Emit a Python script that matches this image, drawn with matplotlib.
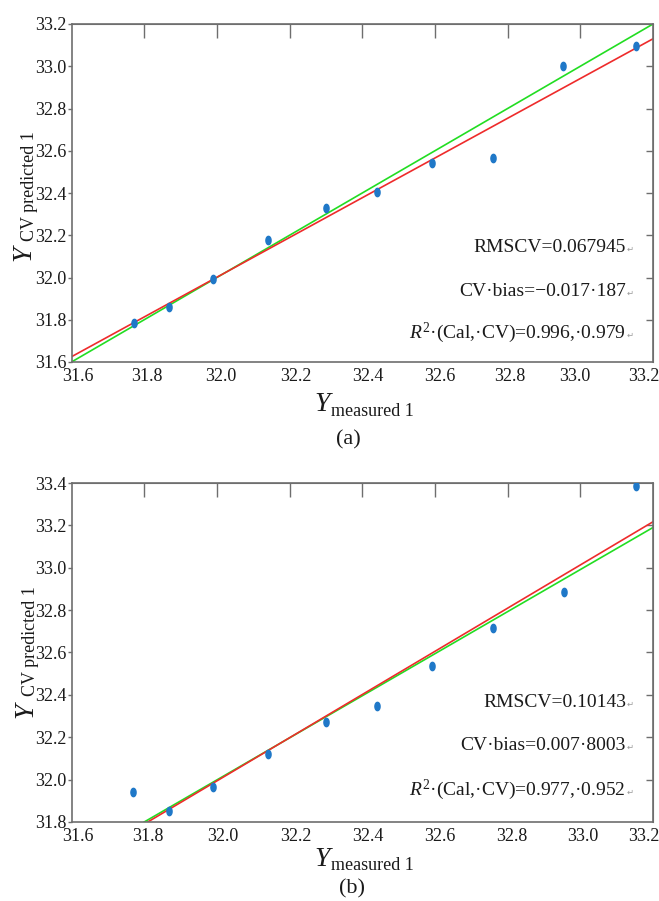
import matplotlib

matplotlib.use("Agg")
import matplotlib.pyplot as plt
import matplotlib.transforms as mtrans
import numpy as np
from matplotlib.path import Path

# ---- data ------------------------------------------------------------------
meas_a = [31.772, 31.869, 31.990, 32.142, 32.300, 32.440, 32.592, 32.760, 32.953, 33.152]
pred_a = [31.783, 31.858, 31.995, 32.176, 32.330, 32.404, 32.544, 32.568, 33.000, 33.095]
ideal_a_x = [31.6, 33.2]
ideal_a_y = [31.6, 33.2]
fit_a_x = [31.6, 33.2]
fit_a_y = [31.625, 33.13]

meas_b = [31.770, 31.867, 31.988, 32.140, 32.300, 32.440, 32.592, 32.761, 32.954, 33.152]
pred_b = [31.943, 31.854, 31.967, 32.121, 32.271, 32.346, 32.538, 32.714, 32.884, 33.386]
ideal_b_x = [31.8, 33.2]
ideal_b_y = [31.8, 33.19]
fit_b_x = [31.8, 33.2]
fit_b_y = [31.79, 33.217]

xticks = [31.6, 31.8, 32.0, 32.2, 32.4, 32.6, 32.8, 33.0, 33.2]
yticks_a = [31.6, 31.8, 32.0, 32.2, 32.4, 32.6, 32.8, 33.0, 33.2]
yticks_b = [31.8, 32.0, 32.2, 32.4, 32.6, 32.8, 33.0, 33.2, 33.4]

stats_a = ["RMSCV=0.067945", "CV·bias=−0.017·187", "$R^2$·(Cal,·CV)=0.996,·0.979"]
stats_b = ["RMSCV=0.10143", "CV·bias=0.007·8003", "$R^2$·(Cal,·CV)=0.977,·0.952"]

# the source figure's x tick labels sit a little off their ticks (pixels)
xlabel_shift_a = [6, 3, 4, 6, 6, 5, 2, -6, -9]
xlabel_shift_b = [6, 4, 6, 6, 6, 5, 4, 2, -9]

# ---- style -----------------------------------------------------------------
W, H = 659, 901
SERIF = "Liberation Serif"
SPINE = "#6e6e6e"
INK = "#1a1a1a"
GREEN = "#22dd22"
RED = "#ee2b2b"
BLUE = "#1f78c8"

plt.rcParams.update({
    "font.family": SERIF,
    "mathtext.fontset": "custom",
    "mathtext.rm": SERIF,
    "mathtext.it": SERIF + ":italic",
    "text.color": INK,
})

# tall ellipse marker like the original dots
t = np.linspace(0, 2 * np.pi, 40)
ELLIPSE = Path(np.column_stack([0.62 * np.cos(t), np.sin(t)]))


def fx(px):
    return px / W


def fy(py):
    return 1 - py / H


def panel(fig, top, bottom, xs, ys, ix, iy, rx, ry, yticks, stats, stat_base,
          ylab_anchor, xlab_base, tag, tag_xy, xshift):
    ax = fig.add_axes([fx(71.5), fy(bottom), fx(653) - fx(71.5), fy(top) - fy(bottom)])
    ax.plot(ix, iy, color=GREEN, lw=1.2, zorder=2)
    ax.plot(rx, ry, color=RED, lw=1.2, zorder=2)
    ax.plot(xs, ys, ls="none", marker=ELLIPSE, ms=6, color=BLUE, mec=BLUE, zorder=3)
    ax.set_xlim(xticks[0], xticks[-1])
    ax.set_ylim(yticks[0], yticks[-1])
    ax.set_xticks(xticks)
    ax.set_yticks(yticks)
    ax.set_xticklabels([f"{v:.1f}" for v in xticks])
    ax.set_yticklabels([f"{v:.1f}" for v in yticks])
    for s in ax.spines.values():
        s.set_color(SPINE)
        s.set_linewidth(1.2)
    ax.tick_params(axis="x", length=0, pad=4, labelsize=13, labelcolor=INK)
    ax.tick_params(axis="y", direction="out", length=3, width=1, color=SPINE,
                   pad=0.5, labelsize=13, labelcolor=INK)
    for lab, dx in zip(ax.get_xticklabels(), xshift):
        lab.set_transform(lab.get_transform()
                          + mtrans.ScaledTranslation(dx / 100, 0, fig.dpi_scale_trans))

    top_ax = ax.secondary_xaxis("top")
    top_ax.set_xticks(xticks[1:-1])
    top_ax.tick_params(direction="in", length=10, width=1, color=SPINE, labeltop=False)
    top_ax.spines["top"].set_color(SPINE)
    right_ax = ax.secondary_yaxis("right")
    right_ax.set_yticks(yticks[1:-1])
    right_ax.tick_params(direction="in", length=5, width=1, color=SPINE, labelright=False)
    right_ax.spines["right"].set_color(SPINE)

    # statistics block, right aligned, with the Word paragraph marks
    for line, base in zip(stats, stat_base):
        fig.text(fx(626), fy(base), line, ha="right", va="baseline", fontsize=14)
        fig.text(fx(627), fy(base), "↵", ha="left", va="baseline", fontsize=6,
                 color="#9a9a9a", family="DejaVu Sans")

    # y label: Y_{CV predicted 1}, rotated
    (yx, yy), (sx, sy) = ylab_anchor
    fig.text(fx(yx), fy(yy), "Y", rotation=90, rotation_mode="anchor", ha="left",
             va="baseline", fontsize=20, style="italic")
    fig.text(fx(sx), fy(sy), "CV predicted 1", rotation=90, rotation_mode="anchor",
             ha="left", va="baseline", fontsize=13)

    # x label: Y_{measured 1}
    yb, sb = xlab_base
    fig.text(fx(330), fy(yb), "Y", ha="right", va="baseline", fontsize=20, style="italic")
    fig.text(fx(331), fy(sb), "measured 1", ha="left", va="baseline", fontsize=13)

    fig.text(fx(tag_xy[0]), fy(tag_xy[1]), tag, ha="center", va="center", fontsize=16)
    return ax


fig = plt.figure(figsize=(W / 100, H / 100), dpi=100)

panel(fig, 24, 362, meas_a, pred_a, ideal_a_x, ideal_a_y, fit_a_x, fit_a_y,
      yticks_a, stats_a, [252, 296, 338],
      ((30, 261), (34, 241)), (411, 416), "(a)", (348, 440), xlabel_shift_a)

panel(fig, 483, 822, meas_b, pred_b, ideal_b_x, ideal_b_y, fit_b_x, fit_b_y,
      yticks_b, stats_b, [707, 750, 795],
      ((32, 718), (35, 696)), (866, 870), "(b)", (352, 889), xlabel_shift_b)

fig.savefig("out.png", dpi=100)
